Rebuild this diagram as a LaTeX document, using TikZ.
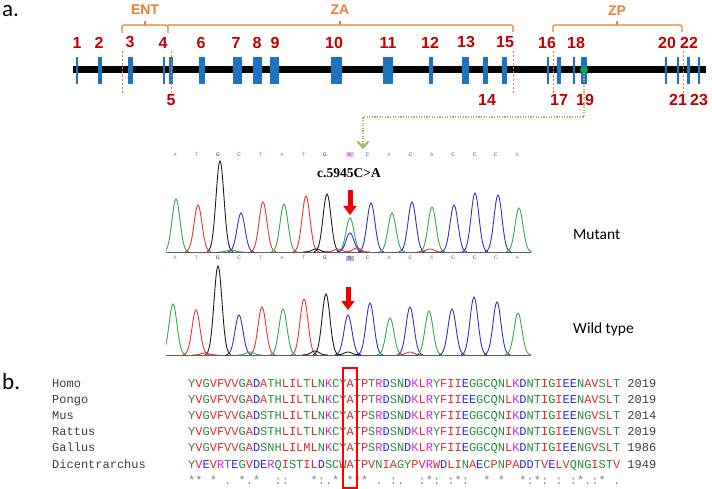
\documentclass[tikz,border=0pt]{standalone}
\usepackage{fontspec}
\setmainfont{Liberation Sans}
\newfontfamily\calib{Carlito}
\newfontfamily\arialf{Liberation Sans}
\newfontfamily\timesf{Liberation Serif}
\newfontfamily\monof{Liberation Mono}
\usetikzlibrary{arrows.meta,shapes.geometric}
\definecolor{exonblue}{RGB}{30,115,190}
\definecolor{numred}{RGB}{192,0,0}
\definecolor{orng}{RGB}{237,125,49}
\definecolor{olivegr}{RGB}{155,187,89}
\definecolor{dotgreen}{RGB}{0,176,80}
\definecolor{tg}{RGB}{50,170,70}
\definecolor{tr}{RGB}{230,50,50}
\definecolor{tb}{RGB}{50,50,200}
\definecolor{tk}{RGB}{30,30,30}
\definecolor{rr}{RGB}{225,40,40}
\definecolor{rb}{RGB}{40,40,220}
\definecolor{rm}{RGB}{210,40,210}
\definecolor{rg}{RGB}{40,140,60}
\definecolor{namegray}{RGB}{60,60,60}
\definecolor{consgray}{RGB}{130,130,130}
\definecolor{arrred}{RGB}{240,0,0}
\colorlet{resA}{rr}\colorlet{resV}{rr}\colorlet{resF}{rr}\colorlet{resP}{rr}
\colorlet{resM}{rr}\colorlet{resI}{rr}\colorlet{resL}{rr}\colorlet{resW}{rr}
\colorlet{resD}{rb}\colorlet{resE}{rb}
\colorlet{resR}{rm}\colorlet{resK}{rm}
\colorlet{resS}{rg}\colorlet{resT}{rg}\colorlet{resY}{rg}\colorlet{resH}{rg}
\colorlet{resC}{rg}\colorlet{resN}{rg}\colorlet{resG}{rg}\colorlet{resQ}{rg}
\makeatletter
\def\colseq#1{\colseq@#1\relax}
\def\colseq@#1{\ifx\relax#1\else{\color{res#1}#1}\expandafter\colseq@\fi}
\def\consq#1{\consq@#1\relax}
\def\consq@#1{\ifx\relax#1\else\if-#1\hphantom{*}\else#1\fi\expandafter\consq@\fi}
\makeatother
\begin{document}
\begin{tikzpicture}[x=1pt,y=-1pt,
  exon/.style={fill=exonblue, draw=none, minimum height=27pt, inner sep=0pt},
  numlbl/.style={text=numred, font=\arialf\bfseries\fontsize{16}{16}\selectfont, inner sep=0pt},
  brk/.style={draw=orng, line width=1.2pt, rounded corners=2pt},
  brklbl/.style={text=orng, font=\arialf\bfseries\fontsize{14}{14}\selectfont, inner sep=0pt},
  bound/.style={draw=orng, line width=0.9pt, dash pattern=on 2.5pt off 1.5pt},
  conn/.style={draw=olivegr, line width=2.2pt, dash pattern=on 1.3pt off 1.3pt,
     -{Straight Barb[length=6pt,width=11pt,line width=2pt]}},
  baselbl/.style={font=\arialf\fontsize{5}{5}\selectfont, inner sep=0pt},
  redarr/.style={draw=arrred, line width=5pt, -{Triangle[length=9pt,width=13pt]}},
  aln/.style={font=\monof\fontsize{12}{12}\selectfont, inner sep=0pt, anchor=base west},
  sidelbl/.style={font=\calib\fontsize{15.5}{15.5}\selectfont, inner sep=0pt, anchor=west}
]
\useasboundingbox (0,0) rectangle (712,489);
% panel labels
\node[font=\calib\fontsize{23}{23}\selectfont, inner sep=0pt, anchor=base west] (pa) at (2,17) {a.};
\node[font=\calib\fontsize{23}{23}\selectfont, inner sep=0pt, anchor=base west] (pb) at (2,389) {b.};
% gene backbone
\draw[line width=7pt, black] (73,70) -- (706,70);
% exons
\foreach \i/\x/\w in {1/77/2,2/100/4,3/130.5/5,4/164/2,5/171/4,6/202/6,7/237.5/9,8/257.5/9,
  9/274.5/9,10/336.5/11,11/388/10,12/431/4,13/465.5/7,14/485.5/5,15/504.5/5,16/548/2,
  17/559/4,18/574/2,19/584/6,20/666/2,21/678/2,22/688/3,23/699/2}
  \node[exon, minimum width=\w pt] (e\i) at (\x,70.5) {};
% boundaries
\foreach \x in {122,171,513,553,683}
  \draw[bound] (\x,51) -- (\x,95);
% exon numbers
\foreach \n/\x in {1/77,2/99,3/130,4/163,6/201,7/236,8/257,9/275,10/334,11/388,12/430,
  13/466,15/505,16/547,18/576,20/667,22/689}
  \node[numlbl] (n\n) at (\x,42.5) {\n};
\foreach \n/\x in {5/171,14/487,17/559,19/585,21/678,23/699}
  \node[numlbl] (n\n) at (\x,100) {\n};
% brackets
\draw[brk] (122,33) -- (122,25) -- (168,25) -- (168,33);
\draw[brk] (145,25) -- (145,21);
\draw[brk] (168,25) -- (513,25) -- (513,32);
\draw[brk] (340,25) -- (340,21);
\draw[brk] (553,32) -- (553,25) -- (682,25) -- (682,32);
\draw[brk] (617,25) -- (617,21);
\node[brklbl] (ent) at (145,10) {ENT};
\node[brklbl] (za) at (340,10) {ZA};
\node[brklbl] (zp) at (617,11) {ZP};
% mutation dot and connector
\node[fill=dotgreen, ellipse, minimum width=8pt, minimum height=6pt, inner sep=0pt] (dot19) at (584,70) {};
\coordinate (bend) at (363,117);
\coordinate (tgt) at (363,149);
\draw[conn] (dot19.south) |- (bend) -- (tgt);
% base letters
\foreach \b/\c [count=\i from 0] in {A/tg,T/tr,G/tk,C/tb,T/tr,A/tg,T/tr,G/tk,N/white,C/tb,A/tg,C/tb,A/tg,C/tb,C/tb,C/tb,A/tg}{
  \node[baselbl, text=\c] (ta\i) at ({175+21.4*\i},155) {\b};
  \node[baselbl, text=\c] (tb\i) at ({175+21.4*\i},258) {\b};
}
\fill[fill={rgb,255:red,232;green,200;blue,240}] (345.5,152.5) rectangle (353.5,157.5);
\node[baselbl, text={rgb,255:red,170;green,50;blue,200}] (tan) at (349.6,155) {N};
\fill[fill={rgb,255:red,175;green,180;blue,210}] (345.5,255.5) rectangle (353.5,260.5);
\node[baselbl, text={rgb,255:red,80;green,80;blue,140}] (tbn) at (349.6,258) {N};
% chromatograms
\begin{scope}
\clip (166,150) rectangle (532,360);
\draw[line width=0.5pt, tk!70] (166,252.5) -- (531,252.5);
\draw[line width=0.5pt, tk!70] (166,355.5) -- (531,355.5);
\foreach \c/\t/\col in {176/199/tg,198/205/tr,220/161/tk,241/213/tb,263/202/tr,284/204/tg,
  306/196/tr,327/194/tk,350/218/tg,350/233/tb,371/203/tb,392/213/tg,412/202/tb,432/207/tg,
  454/205/tb,475/193/tb,498/195/tb,519/208/tg,
  316/249/tk,338/249/tr,357/248/tr,231/250/tg,430/249/tr}{
  \pgfmathsetmacro\lo{\c-13}\pgfmathsetmacro\hi{\c+13}
  \draw[\col, line width=0.9pt] plot[domain=\lo:\hi, samples=27, smooth] (\x,{252-(252-\t)*exp(-((\x-\c)/5.6)^2)});
}
\foreach \c/\t/\col in {173/304/tg,196/310/tr,218/266/tk,239/315/tb,262/307/tr,283/309/tg,
  304/299/tr,326/294/tk,348/315/tb,370/303/tb,390/318/tg,410/307/tb,429/311/tg,452/309/tb,
  474/297/tb,497/302/tb,518/313/tg,
  315/351/tk,348/352/tk,205/353/tr,410/352/tr,250/352/tg}{
  \pgfmathsetmacro\lo{\c-13}\pgfmathsetmacro\hi{\c+13}
  \draw[\col, line width=0.9pt] plot[domain=\lo:\hi, samples=27, smooth] (\x,{355-(355-\t)*exp(-((\x-\c)/5.6)^2)});
}
\end{scope}
% red arrows
\coordinate (ma1) at (350,190); \coordinate (ma2) at (350,215);
\draw[redarr] (ma1) -- (ma2);
\coordinate (wa1) at (348,287); \coordinate (wa2) at (348,310);
\draw[redarr] (wa1) -- (wa2);
\node[font=\timesf\bfseries\fontsize{13.5}{13.5}\selectfont, inner sep=0pt] (mut) at (349,173) {c.5945C>A};
\node[sidelbl] (mutlbl) at (573,235) {Mutant};
\node[sidelbl] (wtlbl) at (573,329) {Wild type};
% alignment
\foreach \nm/\sq/\num [count=\i from 0] in {
  Homo/YVGVFVVGADATHLILTLNKCYATPTRDSNDKLRYFIIEGGCQNLKDNTIGIEENAVSLT/2019,
  Pongo/YVGVFVVGADATHLILTLNKCYATPTRDSNDKLRYFIIEEGCQNLKDNTIGIEENAVSLT/2019,
  Mus/YVGVFVVGADSTHLILTLNKCYATPSRDSNDKLRYFIIEGGCQNIKDNTIGIEENGVSLT/2014,
  Rattus/YVGVFVVGADSTHLILTLNKCYATPSRDSNDKLRYFIIEGGCQNIKDNTIGIEENGVSLT/2019,
  Gallus/YVGVFVVGADSNHLILMLNKCYATPSRDSNDKLRYFIIEGGCQNLKDNTIGIEENGVSLT/1986,
  Dicentrarchus/YVEVRTEGVDERQISTILDSCWATPVNIAGYPVRWDLINAECPNPADDTVELVQNGISTV/1949}{
  \node[aln, text=namegray] (nm\i) at (52,{387+16.2*\i}) {\nm};
  \node[aln] (sq\i) at (188,{387+16.2*\i}) {\expandafter\colseq\expandafter{\sq}};
  \node[aln, text=namegray] (nu\i) at (627.2,{387+16.2*\i}) {\num};
}
\node[aln, text=consgray] (cons) at (188,484.2) {\consq{**-*-.-*.*--::---*:.*:***-.-:.--:*:-:*:--*-*--*:*:-:-:*.:*-.}};
\node[draw=red, line width=1.5pt, minimum width=14pt, minimum height=120pt, inner sep=0pt] (hl) at (350,428) {};
\end{tikzpicture}
\end{document}
